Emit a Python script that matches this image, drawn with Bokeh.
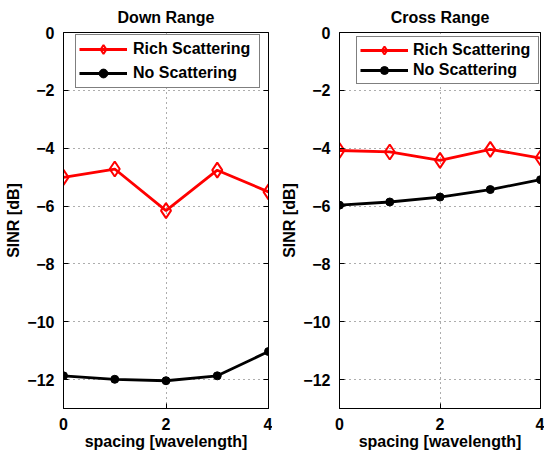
from bokeh.plotting import figure
from bokeh.layouts import row
from bokeh.models import (Legend, LegendItem, LinearAxis, SingleIntervalTicker,
                          CustomJSTickFormatter, Range1d)
from bokeh.embed import file_html
from bokeh.resources import INLINE

# SINR versus element spacing, with and without scattering
spacing = [0, 1, 2, 3, 4]
down_rich = [-5.01, -4.72, -6.16, -4.76, -5.51]
down_none = [-11.87, -11.99, -12.04, -11.87, -11.03]
cross_rich = [-4.08, -4.13, -4.42, -4.04, -4.34]
cross_none = [-5.97, -5.86, -5.69, -5.43, -5.09]

titles = ["Down Range", "Cross Range"]
series_names = ["Rich Scattering", "No Scattering"]
x_label = "spacing [wavelength]"
y_label = "SINR [dB]"

FONT = "Liberation Sans"
RED = "#ff0000"
BLACK = "#000000"

minus_fmt = "return tick < 0 ? '\u2212' + String(-tick) : String(tick);"
blank_fmt = "return '';"


def style_axis(ax, show_labels=True):
    ax.ticker = SingleIntervalTicker(interval=2)
    ax.axis_line_color = BLACK
    ax.axis_line_width = 1
    ax.major_tick_in = 5
    ax.major_tick_out = 0
    ax.major_tick_line_color = BLACK
    ax.minor_tick_line_color = None
    if show_labels:
        ax.major_label_text_font = FONT
        ax.major_label_text_font_style = "bold"
        ax.major_label_text_font_size = "16px"
        ax.major_label_text_color = BLACK
        ax.formatter = CustomJSTickFormatter(code=minus_fmt)
        ax.axis_label_text_font = FONT
        ax.axis_label_text_font_style = "bold"
        ax.axis_label_text_font_size = "16px"
        ax.axis_label_text_color = BLACK
    else:
        # tick marks only, on the right side of the box
        ax.formatter = CustomJSTickFormatter(code=blank_fmt)
        ax.major_label_standoff = 0


def panel(title, rich, none, left_border, legend_cfg):
    p = figure(width=272, height=454, output_backend="svg", toolbar_location=None,
               x_range=Range1d(0, 4), y_range=Range1d(-13, 0),
               min_border_left=left_border, min_border_right=3,
               min_border_top=32, min_border_bottom=46)
    p.background_fill_color = "white"
    p.border_fill_color = "white"
    p.outline_line_color = BLACK
    p.outline_line_width = 1

    p.title.text = title
    p.title.align = "center"
    p.title.text_font = FONT
    p.title.text_font_style = "bold"
    p.title.text_font_size = "16px"
    p.title.text_color = BLACK
    p.title.standoff = 13

    style_axis(p.xaxis[0])
    style_axis(p.yaxis[0])
    p.xaxis.axis_label = x_label
    p.yaxis.axis_label = y_label
    p.xaxis.major_label_standoff = 5
    p.xaxis.axis_label_standoff = 0
    p.yaxis.major_label_standoff = 5
    p.yaxis.axis_label_standoff = 2

    right = LinearAxis()
    style_axis(right, show_labels=False)
    p.add_layout(right, "right")

    for g in (p.xgrid[0], p.ygrid[0]):
        g.ticker = SingleIntervalTicker(interval=2)
        g.grid_line_color = "#333333"
        g.grid_line_alpha = 0.8
        g.grid_line_width = 1
        g.grid_line_dash = "1 4"

    r_line = p.line(spacing, rich, line_color=RED, line_width=2.8)
    r_mark = p.scatter(spacing, rich, marker="diamond", size=15,
                       line_color=RED, line_width=2, fill_color=None)
    n_line = p.line(spacing, none, line_color=BLACK, line_width=2.8)
    n_mark = p.scatter(spacing, none, marker="circle", size=8,
                       line_color=BLACK, fill_color=BLACK)

    legend = Legend(items=[
        LegendItem(label=series_names[0], renderers=[r_line, r_mark]),
        LegendItem(label=series_names[1], renderers=[n_line, n_mark]),
    ])
    legend.location = legend_cfg["loc"]
    legend.margin = 0
    legend.padding = legend_cfg["pad"]
    legend.spacing = legend_cfg["spacing"]
    legend.glyph_width = legend_cfg["gw"]
    legend.glyph_height = legend_cfg["h"]
    legend.label_height = legend_cfg["h"]
    legend.label_width = legend_cfg["lw"]
    legend.label_standoff = legend_cfg["standoff"]
    legend.label_text_font = FONT
    legend.label_text_font_style = "bold"
    legend.label_text_font_size = "16px"
    legend.label_text_color = BLACK
    legend.border_line_color = BLACK
    legend.border_line_width = 1
    legend.background_fill_color = "white"
    legend.background_fill_alpha = 1
    p.add_layout(legend)
    return p


p1 = panel(titles[0], down_rich, down_none, 63,
           dict(loc=(12, 320), pad=3, spacing=2, h=22, gw=48, lw=123, standoff=6))
p2 = panel(titles[1], cross_rich, cross_none, 67,
           dict(loc=(17, 324), pad=3, spacing=0, h=20, gw=48, lw=122, standoff=5))

layout = row(p1, p2)
open("out.html", "w").write(file_html(layout, INLINE))
